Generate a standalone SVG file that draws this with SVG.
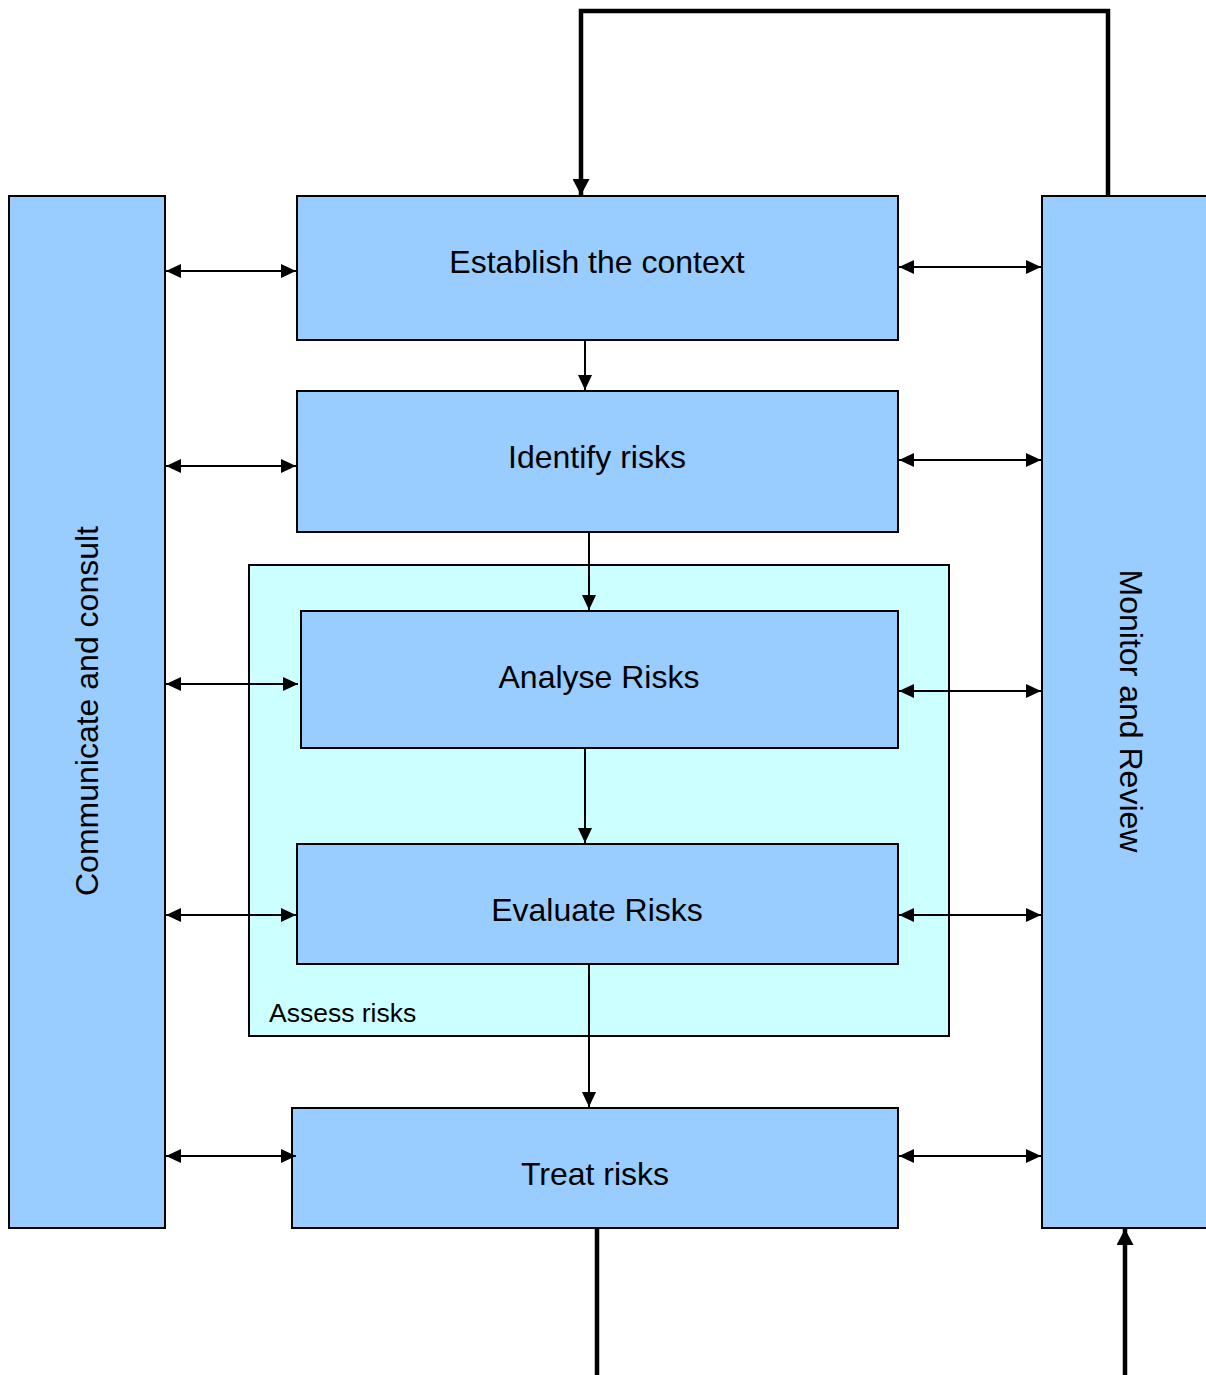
<svg xmlns="http://www.w3.org/2000/svg" width="1206" height="1375" viewBox="0 0 1206 1375">
  <style>
    .box { fill: #99ccff; stroke: #000; stroke-width: 2; }
    .group { fill: #ccffff; stroke: #000; stroke-width: 2; }
    .label { font-family: "Liberation Sans", Arial, sans-serif; font-size: 32px; fill: #000; text-anchor: middle; }
    .small { font-family: "Liberation Sans", Arial, sans-serif; font-size: 26.5px; fill: #000; }
    .thin { stroke: #000; stroke-width: 2; fill: none; }
    .thick { stroke: #000; stroke-width: 4.5; fill: none; }
  </style>
  <defs>
    <marker id="head" viewBox="0 0 15 14" refX="15" refY="7" markerWidth="15" markerHeight="14" markerUnits="userSpaceOnUse" orient="auto-start-reverse">
      <path d="M0,0 L15,7 L0,14 Z" fill="#000"/>
    </marker>
    <marker id="headBig" viewBox="0 0 16 17" refX="16" refY="8.5" markerWidth="16" markerHeight="17" markerUnits="userSpaceOnUse" orient="auto">
      <path d="M0,0 L16,8.5 L0,17 Z" fill="#000"/>
    </marker>
  </defs>

  <g id="communicate">
    <rect class="box" x="9" y="196" width="156" height="1032"/>
    <text class="label" transform="translate(98,711) rotate(-90)">Communicate and consult</text>
  </g>

  <g id="monitor">
    <rect class="box" x="1042" y="196" width="170" height="1032"/>
    <text class="label" transform="translate(1120,711) rotate(90)">Monitor and Review</text>
  </g>

  <g id="assess">
    <rect class="group" x="249" y="565" width="700" height="471"/>
    <text class="small" x="269" y="1022">Assess risks</text>
  </g>

  <g id="establish">
    <rect class="box" x="297" y="196" width="601" height="144"/>
    <text class="label" x="597" y="273">Establish the context</text>
  </g>

  <g id="identify">
    <rect class="box" x="297" y="391" width="601" height="141"/>
    <text class="label" x="597" y="468">Identify risks</text>
  </g>

  <g id="analyse">
    <rect class="box" x="301" y="611" width="597" height="137"/>
    <text class="label" x="599" y="688">Analyse Risks</text>
  </g>

  <g id="evaluate">
    <rect class="box" x="297" y="844" width="601" height="120"/>
    <text class="label" x="597" y="921">Evaluate Risks</text>
  </g>

  <g id="treat">
    <rect class="box" x="292" y="1108" width="606" height="120"/>
    <text class="label" x="595" y="1185">Treat risks</text>
  </g>

  <g id="connectors">
    <!-- two-way links to the consult bar -->
    <line class="thin" x1="166" y1="271" x2="296" y2="271" marker-start="url(#head)" marker-end="url(#head)"/>
    <line class="thin" x1="166" y1="466" x2="296" y2="466" marker-start="url(#head)" marker-end="url(#head)"/>
    <line class="thin" x1="166" y1="684" x2="298" y2="684" marker-start="url(#head)" marker-end="url(#head)"/>
    <line class="thin" x1="166" y1="915" x2="296" y2="915" marker-start="url(#head)" marker-end="url(#head)"/>
    <line class="thin" x1="166" y1="1156" x2="296" y2="1156" marker-start="url(#head)" marker-end="url(#head)"/>
    <!-- two-way links to the review bar -->
    <line class="thin" x1="899" y1="267" x2="1041" y2="267" marker-start="url(#head)" marker-end="url(#head)"/>
    <line class="thin" x1="899" y1="460" x2="1041" y2="460" marker-start="url(#head)" marker-end="url(#head)"/>
    <line class="thin" x1="899" y1="691" x2="1041" y2="691" marker-start="url(#head)" marker-end="url(#head)"/>
    <line class="thin" x1="899" y1="915" x2="1041" y2="915" marker-start="url(#head)" marker-end="url(#head)"/>
    <line class="thin" x1="899" y1="1156" x2="1041" y2="1156" marker-start="url(#head)" marker-end="url(#head)"/>
    <!-- main flow -->
    <line class="thin" x1="585" y1="341" x2="585" y2="390" marker-end="url(#head)"/>
    <line class="thin" x1="589" y1="533" x2="589" y2="610" marker-end="url(#head)"/>
    <line class="thin" x1="585" y1="749" x2="585" y2="843" marker-end="url(#head)"/>
    <line class="thin" x1="589" y1="965" x2="589" y2="1107" marker-end="url(#head)"/>
    <!-- feedback loop over the top -->
    <polyline class="thick" points="1108,195 1108,11 581,11 581,195" marker-end="url(#headBig)"/>
    <!-- lines off the bottom edge -->
    <line class="thick" x1="597" y1="1229" x2="597" y2="1375"/>
    <line class="thick" x1="1125" y1="1375" x2="1125" y2="1229" marker-end="url(#headBig)"/>
  </g>
</svg>
